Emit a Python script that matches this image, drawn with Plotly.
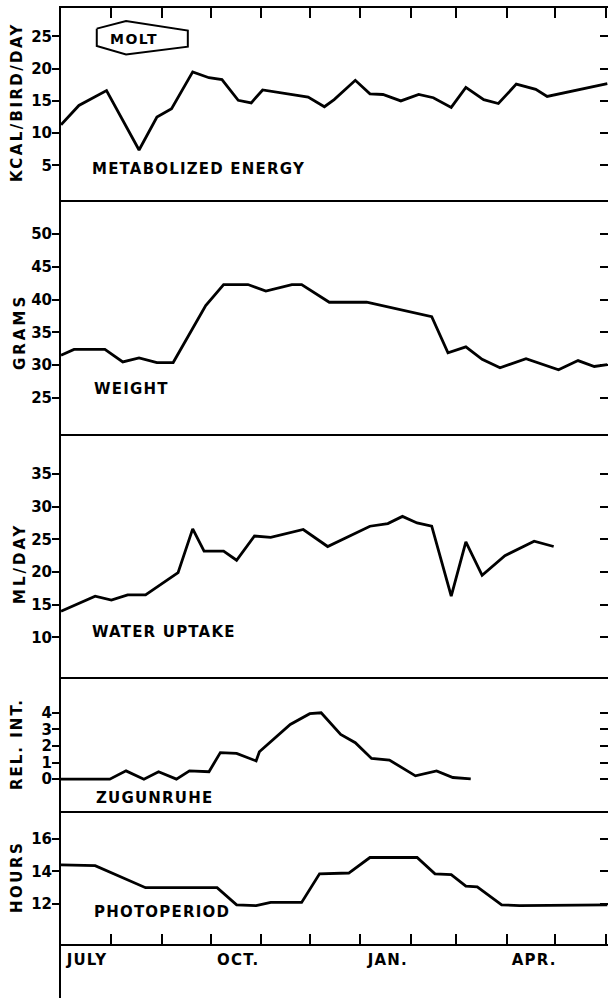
import plotly.graph_objects as go

# ---------------- data ----------------
me_dates = ["1965-07-01", "1965-07-12", "1965-07-29", "1965-08-18", "1965-08-29", "1965-09-07",
            "1965-09-20", "1965-09-30", "1965-10-08", "1965-10-18", "1965-10-26", "1965-11-02",
            "1965-11-30", "1965-12-10", "1965-12-16", "1965-12-29", "1966-01-07", "1966-01-15",
            "1966-01-26", "1966-02-06", "1966-02-15", "1966-02-26", "1966-03-07", "1966-03-18",
            "1966-03-27", "1966-04-07", "1966-04-19", "1966-04-26", "1966-06-02"]
me_vals = [11.3, 14.3, 16.6, 7.4, 12.5, 13.8, 19.5, 18.6, 18.3, 15.1, 14.7, 16.7,
           15.6, 14.1, 15.2, 18.2, 16.1, 16.0, 15.0, 16.0, 15.5, 14.0, 17.1, 15.2,
           14.6, 17.6, 16.8, 15.7, 17.7]

wt_dates = ["1965-07-01", "1965-07-09", "1965-07-28", "1965-08-08", "1965-08-18", "1965-08-29",
            "1965-09-08", "1965-09-28", "1965-10-09", "1965-10-24", "1965-11-04", "1965-11-20",
            "1965-11-26", "1965-12-13", "1966-01-05", "1966-02-14", "1966-02-24", "1966-03-07",
            "1966-03-17", "1966-03-28", "1966-04-13", "1966-05-03", "1966-05-15", "1966-05-25",
            "1966-06-02"]
wt_vals = [31.5, 32.4, 32.4, 30.5, 31.1, 30.4, 30.4, 39.1, 42.3, 42.3, 41.3, 42.3,
           42.3, 39.6, 39.6, 37.4, 31.9, 32.8, 30.9, 29.6, 31.0, 29.3, 30.7, 29.8, 30.1]

wa_dates = ["1965-07-01", "1965-07-22", "1965-08-01", "1965-08-11", "1965-08-22", "1965-09-11",
            "1965-09-20", "1965-09-27", "1965-10-09", "1965-10-17", "1965-10-28", "1965-11-07",
            "1965-11-27", "1965-12-12", "1966-01-07", "1966-01-18", "1966-01-27", "1966-02-05",
            "1966-02-14", "1966-02-26", "1966-03-07", "1966-03-17", "1966-03-31", "1966-04-18",
            "1966-04-30"]
wa_vals = [14.0, 16.3, 15.7, 16.5, 16.5, 19.9, 26.6, 23.2, 23.2, 21.8, 25.5, 25.3,
           26.5, 23.9, 27.0, 27.4, 28.5, 27.5, 27.0, 16.3, 24.6, 19.5, 22.5, 24.7, 23.9]

zu_dates = ["1965-07-01", "1965-07-31", "1965-08-10", "1965-08-21", "1965-08-30", "1965-09-10",
            "1965-09-18", "1965-09-30", "1965-10-07", "1965-10-17", "1965-10-29", "1965-10-31",
            "1965-11-19", "1965-12-01", "1965-12-08", "1965-12-20", "1965-12-29", "1966-01-08",
            "1966-01-19", "1966-02-04", "1966-02-17", "1966-02-27", "1966-03-10"]
zu_vals = [0, 0, 0.5, 0, 0.45, 0, 0.5, 0.45, 1.6, 1.55, 1.1, 1.65,
           3.3, 3.95, 4.0, 2.7, 2.2, 1.25, 1.15, 0.2, 0.5, 0.1, 0.02]

pp_dates = ["1965-07-01", "1965-07-22", "1965-08-22", "1965-10-05", "1965-10-17", "1965-10-29",
            "1965-11-07", "1965-11-26", "1965-12-07", "1965-12-25", "1966-01-07", "1966-02-05",
            "1966-02-16", "1966-02-26", "1966-03-07", "1966-03-14", "1966-03-29", "1966-04-09",
            "1966-06-02"]
pp_vals = [14.4, 14.35, 13.0, 13.0, 11.95, 11.9, 12.1, 12.1, 13.85, 13.9, 14.85, 14.85,
           13.85, 13.8, 13.1, 13.05, 11.95, 11.9, 11.95]

molt_start, molt_mid, molt_end = "1965-07-23", "1965-08-10", "1965-09-17"
molt_hex_y = [26.2, 27.4, 25.9, 23.4, 22.2, 23.5, 26.2]

month_starts = ["1965-08-01", "1965-09-01", "1965-10-01", "1965-11-01", "1965-12-01",
                "1966-01-01", "1966-02-01", "1966-03-01", "1966-04-01", "1966-05-01",
                "1966-06-01"]
month_label_pos = ["1965-07-17", "1965-10-18", "1966-01-18", "1966-04-18"]
month_labels = ["JULY", "OCT.", "JAN.", "APR."]

panel_names = ["METABOLIZED ENERGY", "WEIGHT", "WATER UPTAKE", "ZUGUNRUHE", "PHOTOPERIOD"]
y_titles = ["KCAL/BIRD/DAY", "GRAMS", "ML/DAY", "REL. INT.", "HOURS"]
y_ticks = [[5, 10, 15, 20, 25], [25, 30, 35, 40, 45, 50], [10, 15, 20, 25, 30, 35],
           [0, 1, 2, 3, 4], [12, 14, 16]]

# ---------------- layout geometry ----------------
W, H = 608, 998
X_LEFT = 61
x_range = ["1965-07-01", "1966-06-02 10:00"]
panel_px = [(8, 200), (200, 434), (434, 677), (677, 811), (811, 944)]
y_ranges = [[-0.35, 29.4], [19.5, 55.2], [3.95, 41.1], [-1.92, 6.16], [9.55, 17.7]]
name_pos = [(90, 169), (92, 389), (90, 632), (94, 798), (92, 912)]
title_pos = [(17, 102), (20, 332), (20, 564), (17, 744), (17, 877)]
title_spacing = [2.4, 3.0, 3.0, 2.0, 2.5]


def px_x(p):
    return p / W


def px_y(p):
    return 1 - p / H


def spaced(text, px):
    return f'<span style="letter-spacing:{px}px">{text}</span>'


FONT = "DejaVu Sans"
series = [(me_dates, me_vals), (wt_dates, wt_vals), (wa_dates, wa_vals),
          (zu_dates, zu_vals), (pp_dates, pp_vals)]

fig = go.Figure()
layout = dict(width=W, height=H, margin=dict(l=0, r=0, t=0, b=0),
              paper_bgcolor="white", plot_bgcolor="white", showlegend=False,
              annotations=[], shapes=[])

for i, (dts, vals) in enumerate(series):
    n = i + 1
    xa = "x" if n == 1 else f"x{n}"
    ya = "y" if n == 1 else f"y{n}"
    fig.add_trace(go.Scatter(x=dts, y=vals, xaxis=xa, yaxis=ya, mode="lines",
                             line=dict(color="black", width=2.8), hoverinfo="skip"))
    # invisible trace for the right-side tick axis
    fig.add_trace(go.Scatter(x=dts, y=vals, xaxis=xa, yaxis=f"y{n + 5}", mode="lines",
                             opacity=0, hoverinfo="skip"))
    top, bot = panel_px[i]
    xkey = "xaxis" if n == 1 else f"xaxis{n}"
    ykey = "yaxis" if n == 1 else f"yaxis{n}"
    xax = dict(domain=[px_x(X_LEFT), 1], anchor=ya, range=x_range, type="date",
               showgrid=False, zeroline=False, showline=True, linewidth=2, linecolor="black",
               showticklabels=False, ticks="")
    if n == 1:
        xax.update(side="top", ticks="inside", ticklen=10, tickwidth=2, tickcolor="black",
                   tickvals=month_starts, mirror=True)
    if n == 5:
        xax.update(side="bottom", ticks="inside", ticklen=10, tickwidth=2, tickcolor="black",
                   tickvals=month_starts)
    layout[xkey] = xax
    layout[ykey] = dict(domain=[px_y(bot), px_y(top)], anchor=xa, range=y_ranges[i],
                        tickvals=y_ticks[i], ticks="outside", ticklen=7, tickwidth=2,
                        tickcolor="black", showline=True, linewidth=2, linecolor="black",
                        showgrid=False, zeroline=False, ticklabelstandoff=-3,
                        tickfont=dict(family=FONT, size=15, color="black", weight="bold"))
    layout[f"yaxis{n + 5}"] = dict(domain=[px_y(bot), px_y(top)], anchor=xa, overlaying=ya,
                                   side="right", range=y_ranges[i], tickvals=y_ticks[i],
                                   ticks="inside", ticklen=8, tickwidth=2, tickcolor="black",
                                   showline=False, showgrid=False, zeroline=False,
                                   showticklabels=False)
    nx, ny = name_pos[i]
    layout["annotations"].append(dict(
        text=spaced(panel_names[i], 1.2), x=px_x(nx), y=px_y(ny), xref="paper", yref="paper",
        xanchor="left", yanchor="middle", showarrow=False,
        font=dict(family=FONT, size=15, color="black", weight="bold")))
    tx, ty = title_pos[i]
    layout["annotations"].append(dict(
        text=spaced(y_titles[i], title_spacing[i]), x=px_x(tx), y=px_y(ty),
        xref="paper", yref="paper",
        xanchor="center", yanchor="middle", textangle=-90, showarrow=False,
        font=dict(family=FONT, size=15, color="black", weight="bold")))

# month labels on an overlay axis under the photoperiod panel
fig.add_trace(go.Scatter(x=pp_dates, y=pp_vals, xaxis="x6", yaxis="y5", mode="lines",
                         opacity=0, hoverinfo="skip"))
layout["xaxis6"] = dict(overlaying="x5", anchor="y5", side="bottom", range=x_range, type="date",
                        tickvals=month_label_pos,
                        ticktext=[spaced(t, 1.2) for t in month_labels], ticks="",
                        showline=False, showgrid=False, zeroline=False, ticklabelstandoff=5,
                        tickfont=dict(family=FONT, size=15, color="black", weight="bold"))

# molt box (hexagon spanning the molt period)
fig.add_trace(go.Scatter(x=[molt_start, molt_mid, molt_end, molt_end, molt_mid, molt_start, molt_start],
                         y=molt_hex_y, xaxis="x", yaxis="y", mode="lines",
                         line=dict(color="black", width=2), hoverinfo="skip"))
layout["annotations"].append(dict(
    text=spaced("MOLT", 1.5), x="1965-08-15", y=24.6, xref="x", yref="y", showarrow=False,
    xanchor="center", yanchor="middle",
    font=dict(family=FONT, size=14, color="black", weight="bold")))

# left border of the bottom label strip
layout["shapes"].append(dict(type="line", xref="paper", yref="paper",
                             x0=px_x(X_LEFT - 1), x1=px_x(X_LEFT - 1), y0=0, y1=px_y(944),
                             line=dict(color="black", width=2)))

fig.update_layout(**layout)
fig.write_html("out.html")
